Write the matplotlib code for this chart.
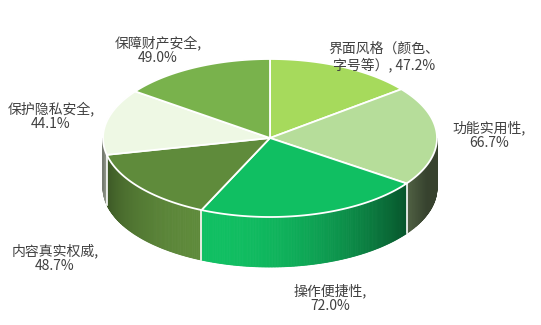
import numpy as np
import matplotlib.pyplot as plt
from matplotlib.patches import Polygon
from matplotlib.colors import to_rgb

plt.rcParams['font.family'] = ['Noto Sans CJK SC', 'DejaVu Sans']

# survey items and their shares (%)
labels = ['界面风格（颜色、\n字号等）', '功能实用性', '操作便捷性',
          '内容真实权威', '保护隐私安全', '保障财产安全']
values = [47.2, 66.7, 72.0, 48.7, 44.1, 49.0]

colors = ['#a6da5c', '#b6dd9a', '#10bf62', '#5f8b3b', '#eef8e4', '#79b24c']
label_pos = [(384, 57), (489, 135), (330, 298), (55, 258), (51, 116), (158, 50)]

cx, cy = 270, 138
rx, ry = 167, 79
depth = 50


def pt(theta, dy=0.0):
    t = np.radians(theta)
    return cx + rx * np.sin(t), cy - ry * np.cos(t) + dy


fig = plt.figure(figsize=(5.41, 3.25), dpi=100)
ax = fig.add_axes([0, 0, 1, 1])
ax.set_xlim(0, 541)
ax.set_ylim(325, 0)
ax.axis('off')

vals = np.array(values)
edges = np.concatenate([[0], np.cumsum(vals) / vals.sum() * 360])

# side wall, only the front half (90..270 deg clockwise from top)
for i in range(len(vals)):
    a0, a1 = max(edges[i], 90), min(edges[i + 1], 270)
    if a1 <= a0:
        continue
    base = np.array(to_rgb(colors[i]))
    steps = np.linspace(a0, a1, max(int((a1 - a0) * 2), 2))
    for s0, s1 in zip(steps[:-1], steps[1:]):
        m = 0.5 * (s0 + s1)
        f = 0.3 + 0.7 * max(0.0, np.cos(np.radians(m - 200))) ** 1.2
        c = np.clip(base * f, 0, 1)
        quad = [pt(s0), pt(s1), pt(s1, depth), pt(s0, depth)]
        ax.add_patch(Polygon(quad, closed=True, facecolor=c, edgecolor=c,
                             lw=0.6, zorder=1))

# white seams on the wall at slice boundaries
for e in edges:
    if 90 < e < 270:
        x0, y0 = pt(e)
        ax.plot([x0, x0], [y0, y0 + depth], color='white', lw=1.2, zorder=2)

# top face
for i in range(len(vals)):
    th = np.linspace(edges[i], edges[i + 1], 120)
    arc = [pt(t) for t in th]
    poly = [(cx, cy)] + arc
    ax.add_patch(Polygon(poly, closed=True, facecolor=colors[i],
                         edgecolor='white', lw=1.3, joinstyle='round', zorder=3))

for lab, v, (x, y) in zip(labels, values, label_pos):
    if '\n' in lab:
        txt = f'{lab}, {v:.1f}%'
    else:
        txt = f'{lab},\n{v:.1f}%'
    ax.text(x, y, txt, ha='center', va='center', fontsize=10,
            color='#404040', linespacing=1.1, zorder=5)

fig.savefig('out.png', dpi=100)
